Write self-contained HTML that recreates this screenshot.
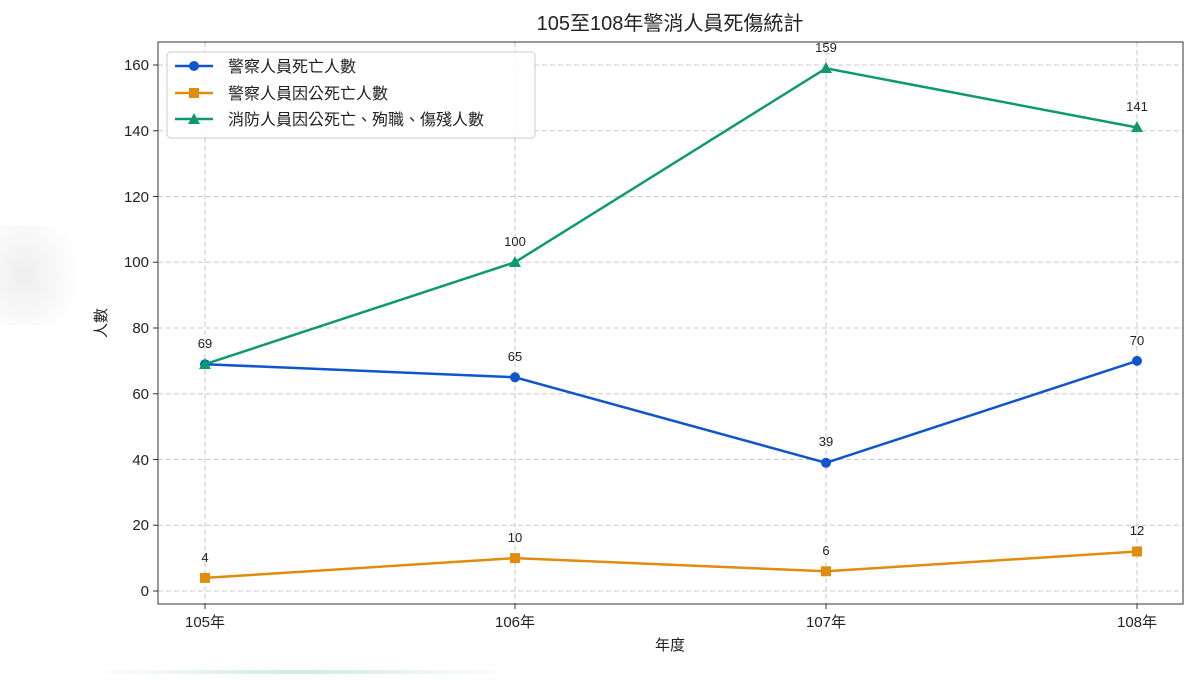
<!DOCTYPE html>
<html><head><meta charset="utf-8"><style>
html,body{margin:0;padding:0;background:#fff;}
svg text{font-family:"Liberation Sans","Noto Sans CJK TC",sans-serif;fill:#222;}
</style></head><body>
<svg width="1200" height="675" xmlns="http://www.w3.org/2000/svg">
<defs><radialGradient id="g" cx="0.3" cy="0.5" r="0.7"><stop offset="0" stop-color="#eee"/><stop offset="1" stop-color="#fff"/></radialGradient>
<linearGradient id="t" x1="0" x2="1"><stop offset="0" stop-color="#fff"/><stop offset="0.5" stop-color="#cfe9e4"/><stop offset="1" stop-color="#fff"/></linearGradient></defs>
<rect x="0" y="225" width="80" height="100" fill="url(#g)"/>
<rect x="90" y="670" width="420" height="4" fill="url(#t)"/>
<text x="670" y="30" font-size="20" text-anchor="middle">105至108年警消人員死傷統計</text>
<g stroke="#c8c8c8" stroke-dasharray="5,3" stroke-width="1">
<line x1="205" y1="42" x2="205" y2="604"/><line x1="515" y1="42" x2="515" y2="604"/><line x1="826" y1="42" x2="826" y2="604"/><line x1="1137" y1="42" x2="1137" y2="604"/>
<line x1="158" y1="591" x2="1183" y2="591"/><line x1="158" y1="525.25" x2="1183" y2="525.25"/><line x1="158" y1="459.5" x2="1183" y2="459.5"/><line x1="158" y1="393.75" x2="1183" y2="393.75"/><line x1="158" y1="328" x2="1183" y2="328"/><line x1="158" y1="262.25" x2="1183" y2="262.25"/><line x1="158" y1="196.5" x2="1183" y2="196.5"/><line x1="158" y1="130.75" x2="1183" y2="130.75"/><line x1="158" y1="65" x2="1183" y2="65"/>
</g>
<rect x="158" y="42" width="1025" height="562" fill="none" stroke="#333" stroke-width="1"/>
<g stroke="#333"><line x1="153" y1="591" x2="158" y2="591"/><line x1="153" y1="525.25" x2="158" y2="525.25"/><line x1="153" y1="459.5" x2="158" y2="459.5"/><line x1="153" y1="393.75" x2="158" y2="393.75"/><line x1="153" y1="328" x2="158" y2="328"/><line x1="153" y1="262.25" x2="158" y2="262.25"/><line x1="153" y1="196.5" x2="158" y2="196.5"/><line x1="153" y1="130.75" x2="158" y2="130.75"/><line x1="153" y1="65" x2="158" y2="65"/>
<line x1="205" y1="604" x2="205" y2="609"/><line x1="515" y1="604" x2="515" y2="609"/><line x1="826" y1="604" x2="826" y2="609"/><line x1="1137" y1="604" x2="1137" y2="609"/></g>
<g font-size="15" text-anchor="end"><text x="149" y="596">0</text><text x="149" y="530">20</text><text x="149" y="465">40</text><text x="149" y="399">60</text><text x="149" y="333">80</text><text x="149" y="267">100</text><text x="149" y="202">120</text><text x="149" y="136">140</text><text x="149" y="70">160</text></g>
<g font-size="15" text-anchor="middle"><text x="205" y="627">105年</text><text x="515" y="627">106年</text><text x="826" y="627">107年</text><text x="1137" y="627">108年</text>
<text x="670" y="650">年度</text></g>
<text transform="translate(106,323) rotate(-90)" font-size="15" text-anchor="middle">人數</text>
<polyline points="205,364.2 515,377.3 826,462.8 1137,360.9" fill="none" stroke="#1155cc" stroke-width="2.5"/>
<g fill="#1155cc"><circle cx="205" cy="364.2" r="5"/><circle cx="515" cy="377.3" r="5"/><circle cx="826" cy="462.8" r="5"/><circle cx="1137" cy="360.9" r="5"/></g>
<polyline points="205,577.9 515,558.1 826,571.3 1137,551.5" fill="none" stroke="#e08c0c" stroke-width="2.5"/>
<g fill="#e08c0c"><rect x="200" y="572.9" width="10" height="10"/><rect x="510" y="553.1" width="10" height="10"/><rect x="821" y="566.3" width="10" height="10"/><rect x="1132" y="546.5" width="10" height="10"/></g>
<polyline points="205,364.2 515,262.25 826,68.3 1137,127.5" fill="none" stroke="#0e9a6e" stroke-width="2.5"/>
<g fill="#0e9a6e"><polygon points="205,358 211,369 199,369"/><polygon points="515,256 521,267 509,267"/><polygon points="826,62 832,73 820,73"/><polygon points="1137,121 1143,132 1131,132"/></g>
<g font-size="13" text-anchor="middle">
<text x="205" y="348">69</text><text x="515" y="361">65</text><text x="826" y="446">39</text><text x="1137" y="345">70</text>
<text x="205" y="562">4</text><text x="515" y="542">10</text><text x="826" y="555">6</text><text x="1137" y="535">12</text>
<text x="515" y="246">100</text><text x="826" y="52">159</text><text x="1137" y="111">141</text></g>
<rect x="167" y="52" width="368" height="86" rx="4" fill="#fff" fill-opacity="0.85" stroke="#ccc"/>
<line x1="175" y1="66" x2="213" y2="66" stroke="#1155cc" stroke-width="2.5"/><circle cx="194" cy="66" r="5" fill="#1155cc"/>
<line x1="175" y1="93" x2="213" y2="93" stroke="#e08c0c" stroke-width="2.5"/><rect x="189" y="88" width="10" height="10" fill="#e08c0c"/>
<line x1="175" y1="119" x2="213" y2="119" stroke="#0e9a6e" stroke-width="2.5"/><polygon points="194,113 200,124 188,124" fill="#0e9a6e"/>
<g font-size="16"><text x="228" y="72">警察人員死亡人數</text><text x="228" y="99">警察人員因公死亡人數</text><text x="228" y="125">消防人員因公死亡、殉職、傷殘人數</text></g>
</svg>
</body></html>
